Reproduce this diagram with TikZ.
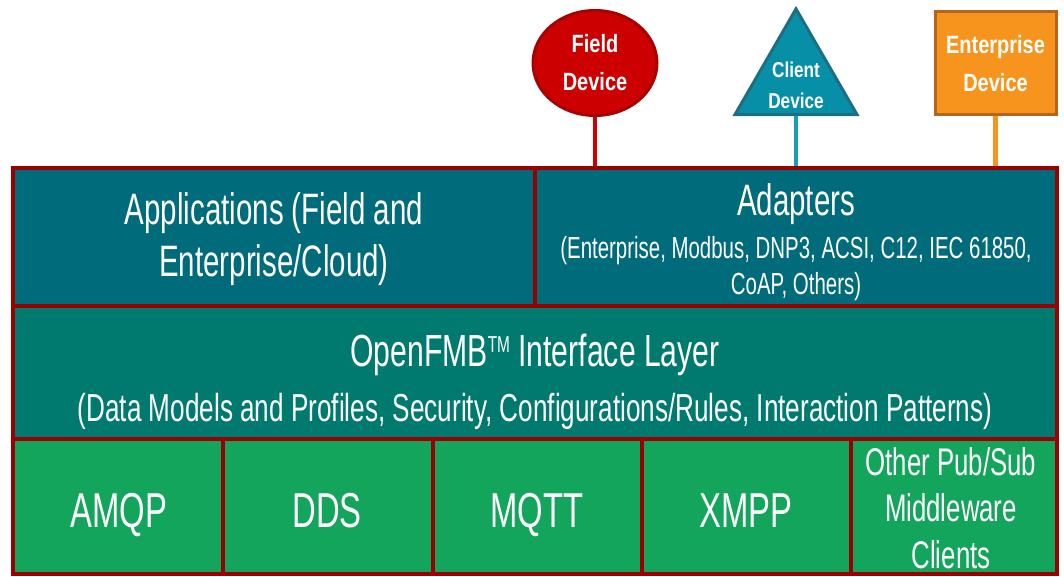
\documentclass[tikz,border=0pt]{standalone}
\usepackage{fontspec}
\setmainfont{Liberation Sans}[FakeStretch=0.67]
\newfontfamily\devfont{Liberation Sans}[FakeStretch=0.8]
\usetikzlibrary{shapes.geometric}
\definecolor{frame}{HTML}{990000}
\definecolor{rowA}{HTML}{006B7B}
\definecolor{rowB}{HTML}{007A6F}
\definecolor{rowC}{HTML}{12A55B}
\definecolor{fieldfill}{HTML}{CC0000}
\definecolor{fielddraw}{HTML}{A80000}
\definecolor{clientfill}{HTML}{088FA8}
\definecolor{clientdraw}{HTML}{1C6F82}
\definecolor{clientstem}{HTML}{1A9CB8}
\definecolor{entfill}{HTML}{F7941E}
\definecolor{entdraw}{HTML}{B5661E}
\begin{document}
\begin{tikzpicture}[x=1pt,y=-1pt,
  cell/.style={rectangle, draw=frame, line width=4pt, inner sep=0pt},
  txt/.style={text=white, align=center, inner sep=0pt},
  devtxt/.style={text=white, align=center, inner sep=0pt, font=\devfont\bfseries\fontsize{25}{38}\selectfont},
  stem/.style={line width=4.5pt}
]
\useasboundingbox (0,0) rectangle (1064,577);

% top row
\node[cell, fill=rowA, minimum width=522, minimum height=138] (apps) at (274,237) {};
\node[cell, fill=rowA, minimum width=522, minimum height=138] (adapt) at (796,237) {};
% middle row
\node[cell, fill=rowB, minimum width=1044, minimum height=133] (iface) at (535,372.5) {};
% bottom row
\node[cell, fill=rowC, minimum width=210, minimum height=135] (amqp) at (118,506.5) {};
\node[cell, fill=rowC, minimum width=210, minimum height=135] (dds) at (328,506.5) {};
\node[cell, fill=rowC, minimum width=209, minimum height=135] (mqtt) at (537.5,506.5) {};
\node[cell, fill=rowC, minimum width=209, minimum height=135] (xmpp) at (746.5,506.5) {};
\node[cell, fill=rowC, minimum width=206, minimum height=135] (other) at (954,506.5) {};

% texts
\node[txt, font=\fontsize{44}{52}\selectfont] (appsT) at (274,239.5) {Applications (Field and\\Enterprise/Cloud)};
\node[txt, font=\fontsize{30.5}{36}\selectfont] (adaptT) at (796,242) {{\fontsize{44}{36}\selectfont Adapters}\\[7pt](Enterprise, Modbus, DNP3, ACSI, C12, IEC 61850,\\CoAP, Others)};
\node[txt, font=\fontsize{39}{55}\selectfont] (ifaceT) at (535,381.5) {{\fontsize{45}{55}\selectfont OpenFMB\raisebox{14pt}{\fontsize{23}{23}\selectfont TM} Interface Layer}\\(Data Models and Profiles, Security, Configurations/Rules, Interaction Patterns)};
\node[txt, font=\fontsize{49}{58}\selectfont, anchor=base] (amqpT) at (119,527) {AMQP};
\node[txt, font=\fontsize{49}{58}\selectfont, anchor=base] (ddsT) at (327,527) {DDS};
\node[txt, font=\fontsize{49}{58}\selectfont, anchor=base] (mqttT) at (537,527) {MQTT};
\node[txt, font=\fontsize{49}{58}\selectfont, anchor=base] (xmppT) at (746,527) {XMPP};
\node[txt, font=\fontsize{38.5}{46.5}\selectfont] (otherT) at (951,508) {Other Pub/Sub\\Middleware\\Clients};

% devices
\node[ellipse, fill=fieldfill, draw=fielddraw, line width=3pt, minimum width=124, minimum height=105, inner sep=0pt, devtxt] (field) at (595,63) {Field\\Device};
\node[regular polygon, regular polygon sides=3, minimum size=141, inner sep=0pt, fill=clientfill, draw=clientdraw, line width=3pt,
  label={[devtxt, font=\devfont\bfseries\fontsize{21.5}{31}\selectfont, yshift=-6pt]center:Client\\Device}] (client) at (796,79.4) {};
\node[rectangle, fill=entfill, draw=entdraw, line width=3pt, minimum width=121, minimum height=103, inner sep=0pt, devtxt] (ent) at (995.5,63.5) {Enterprise\\Device};

% stems
\draw[stem, fieldfill] (field.south) -- (field.south |- adapt.north);
\draw[stem, clientstem] (client.south) -- (client.south |- adapt.north);
\draw[stem, entfill] (ent.south) -- (ent.south |- adapt.north);
\end{tikzpicture}
\end{document}
